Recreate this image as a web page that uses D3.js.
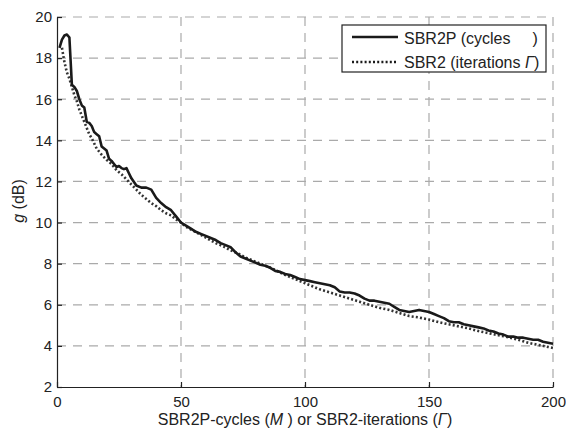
<!DOCTYPE html>
<html>
<head>
<meta charset="utf-8">
<script src="https://cdn.jsdelivr.net/npm/d3@7"></script>
<style>
  body { margin: 0; background: #fff; }
  text { font-family: "Liberation Sans", Arial, sans-serif; fill: #222; }
</style>
</head>
<body>
<div id="wrapper"></div>
<script>
// SBR2P (cycles M) - solid
const sbr2pM = [1,2,3,4,5,6,7,8,9,10,11,12,13,14,15,16,17,18,19,20,21,22,23,24,25,26,27,28,29,
  30,32,34,36,38,40,42,44,46,48,50,52,54,56,58,60,62,64,66,68,70,72,74,76,78,80,82,84,86,88,90,
  92,94,96,98,100,102,104,106,108,110,112,114,116,118,120,122,124,126,128,130,132,134,136,138,140,
  142,144,146,148,150,152,154,156,158,160,162,164,166,168,170,172,174,176,178,180,182,184,186,188,
  190,192,194,196,198,200];
const sbr2pG = [18.5,18.9,19.1,19.15,19.0,16.7,16.6,16.4,16.0,15.7,15.6,14.9,14.85,14.7,14.4,14.3,14.2,13.7,13.6,13.5,13.1,13.0,12.85,12.7,12.75,12.65,12.6,12.65,12.4,
  12.15,11.8,11.7,11.7,11.6,11.2,10.95,10.75,10.6,10.3,10.0,9.85,9.7,9.55,9.45,9.35,9.25,9.15,9.0,8.9,8.8,8.55,8.35,8.25,8.15,8.05,7.95,7.9,7.8,7.65,7.6,
  7.5,7.45,7.35,7.25,7.2,7.15,7.1,7.05,7.0,6.95,6.85,6.65,6.6,6.6,6.55,6.45,6.3,6.2,6.2,6.15,6.1,6.05,5.9,5.75,5.7,
  5.65,5.7,5.75,5.7,5.65,5.55,5.45,5.35,5.2,5.15,5.15,5.05,5.0,4.95,4.9,4.85,4.75,4.7,4.6,4.55,4.45,4.45,4.4,4.4,
  4.35,4.3,4.3,4.2,4.15,4.1];

// SBR2 (iterations Γ) - dotted
const sbr2I = [2,3,4,5,6,7,8,9,10,11,12,13,14,15,16,18,20,22,24,26,28,30,32,34,36,38,40,42,44,46,48,50,
  52,55,58,61,64,67,70,73,76,79,82,85,88,91,94,97,100,103,106,110,114,118,122,126,130,134,138,142,
  146,150,154,158,162,166,170,174,178,182,186,190,194,198,200];
const sbr2G = [18.5,17.8,17.3,17.0,16.6,16.2,15.9,15.5,15.2,14.9,14.6,14.3,14.1,13.85,13.6,13.3,13.05,12.85,12.55,12.35,12.1,11.85,11.6,11.35,11.15,10.95,10.8,10.6,10.45,10.35,10.15,10.0,
  9.8,9.6,9.4,9.2,9.0,8.85,8.65,8.5,8.3,8.15,8.0,7.85,7.7,7.5,7.35,7.2,7.05,6.9,6.75,6.6,6.45,6.3,6.15,6.0,5.85,5.75,5.6,5.45,
  5.38,5.28,5.15,5.05,4.95,4.85,4.72,4.62,4.52,4.42,4.3,4.15,4.05,3.95,3.9];

const xTicks = [0, 50, 100, 150, 200];
const yTicks = [2, 4, 6, 8, 10, 12, 14, 16, 18, 20];

const dimension = {
  width: 566,
  height: 428,
  margin: { top: 17, right: 13, bottom: 41, left: 57 }
};
dimension.boundedWidth = dimension.width - dimension.margin.left - dimension.margin.right;
dimension.boundedHeight = dimension.height - dimension.margin.top - dimension.margin.bottom;

const svg = d3.select("#wrapper")
  .append("svg")
  .attr("width", dimension.width)
  .attr("height", dimension.height);

const bounds = svg.append("g")
  .attr("transform", `translate(${dimension.margin.left},${dimension.margin.top})`);

const xScale = d3.scaleLinear().domain([0, 200]).range([0, dimension.boundedWidth]);
const yScale = d3.scaleLinear().domain([2, 20]).range([dimension.boundedHeight, 0]);

// dashed grid
bounds.selectAll("line.vgrid")
  .data(xTicks.slice(1))
  .enter().append("line")
  .attr("x1", d => xScale(d)).attr("x2", d => xScale(d))
  .attr("y1", 0).attr("y2", dimension.boundedHeight)
  .style("stroke", "#aaa").style("stroke-width", 1.2)
  .style("stroke-dasharray", "9,7");

bounds.selectAll("line.hgrid")
  .data(yTicks.slice(1))
  .enter().append("line")
  .attr("x1", 0).attr("x2", dimension.boundedWidth)
  .attr("y1", d => yScale(d)).attr("y2", d => yScale(d))
  .style("stroke", "#aaa").style("stroke-width", 1.2)
  .style("stroke-dasharray", "9,7");

// axes
const xAxis = d3.axisBottom(xScale).tickValues(xTicks).tickSizeInner(-5).tickSizeOuter(0).tickPadding(9);
const yAxis = d3.axisLeft(yScale).tickValues(yTicks).tickSizeInner(-5).tickSizeOuter(0).tickPadding(5);

const gx = bounds.append("g")
  .attr("transform", `translate(0,${dimension.boundedHeight})`)
  .call(xAxis);
const gy = bounds.append("g").call(yAxis);

[gx, gy].forEach(g => {
  g.select(".domain").style("stroke", "#222").style("stroke-width", 1.2);
  g.selectAll(".tick line").style("stroke", "#222").style("stroke-width", 1.2);
  g.selectAll(".tick text")
    .style("font-family", "'Liberation Sans', Arial, sans-serif")
    .style("font-size", "15px")
    .style("fill", "#222");
});

// curves
const line = d3.line()
  .x(d => xScale(d[0]))
  .y(d => yScale(d[1]));

bounds.append("path")
  .datum(sbr2I.map((m, i) => [m, sbr2G[i]]))
  .attr("d", line)
  .style("fill", "none")
  .style("stroke", "#333")
  .style("stroke-width", 2.6)
  .style("stroke-dasharray", "2,2.2");

bounds.append("path")
  .datum(sbr2pM.map((m, i) => [m, sbr2pG[i]]))
  .attr("d", line)
  .style("fill", "none")
  .style("stroke", "#1a1a1a")
  .style("stroke-width", 2.6)
  .style("stroke-linejoin", "round");

// axis labels
const xLabel = svg.append("text")
  .attr("x", 305)
  .attr("y", 425)
  .attr("text-anchor", "middle")
  .style("font-size", "16px");
xLabel.append("tspan").text("SBR2P-cycles (");
xLabel.append("tspan").style("font-style", "italic").text("M");
xLabel.append("tspan").text(" ) or SBR2-iterations (");
xLabel.append("tspan").style("font-style", "italic").text("Γ");
xLabel.append("tspan").text(")");

const yLabel = svg.append("text")
  .attr("transform", `translate(24,201) rotate(-90)`)
  .attr("text-anchor", "middle")
  .style("font-size", "16px");
yLabel.append("tspan").style("font-style", "italic").text("g");
yLabel.append("tspan").text(" (dB)");

// legend
const legend = svg.append("g").attr("transform", "translate(342,25)");
legend.append("rect")
  .attr("width", 204).attr("height", 47)
  .style("fill", "#fff").style("stroke", "#222").style("stroke-width", 1.2);

const legendItems = [
  { dash: null, y: 12 },
  { dash: "2,2.2", y: 37 }
];
legend.selectAll("line.key")
  .data(legendItems)
  .enter().append("line")
  .attr("x1", 10).attr("x2", 56)
  .attr("y1", d => d.y).attr("y2", d => d.y)
  .style("stroke", "#1a1a1a")
  .style("stroke-width", 2.6)
  .style("stroke-dasharray", d => d.dash);

const t1 = legend.append("text").attr("x", 62).attr("y", 19).style("font-size", "16px");
t1.append("tspan").text("SBR2P (cycles");
t1.append("tspan").attr("dx", 22).text(")");

const t2 = legend.append("text").attr("x", 62).attr("y", 43).style("font-size", "16px");
t2.append("tspan").text("SBR2 (iterations ");
t2.append("tspan").style("font-style", "italic").text("Γ");
t2.append("tspan").text(")");
</script>
</body>
</html>
